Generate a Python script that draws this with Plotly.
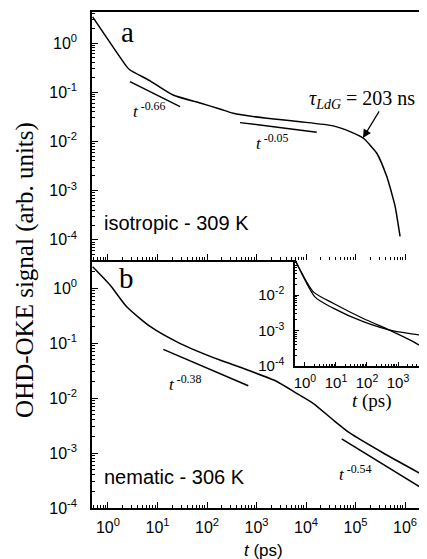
import plotly.graph_objects as go

# ---------------- data ----------------
# panel a: isotropic - 309 K
a_t = [0.49, 2.39, 2.78, 7.08, 20.6, 72.4, 182, 339, 1622, 7586, 35480, 77620,
       144500, 195000, 269200, 426600, 537000, 631000, 794300]
a_s = [3.39, 0.331, 0.283, 0.170, 0.0879, 0.0603, 0.0457, 0.0372, 0.0295, 0.0251,
       0.0207, 0.0158, 0.0116, 0.0085, 0.00575, 0.00195, 0.00089, 4.79e-4, 1.17e-4]

# panel b: nematic - 306 K
b_t = [0.49, 1.10, 2.39, 7.08, 28.2, 182, 537, 2570, 6457, 14130, 35480, 77620,
       363100, 1995000]
b_s = [2.44, 1.135, 0.457, 0.200, 0.0989, 0.0490, 0.0347, 0.0200, 0.01216, 0.00794,
       0.00398, 0.00229, 0.00100, 0.000427]

# inset curves
inA_t = [0.479, 1.86, 8.13, 75.9, 550, 3090, 8710]
inA_s = [0.0977, 0.0123, 0.00589, 0.00219, 0.00102, 4.9e-4, 2.82e-4]
inB_t = [0.479, 2.09, 8.13, 75.9, 708, 8710]
inB_s = [0.0977, 0.00891, 0.00427, 0.00178, 9.77e-4, 7.08e-4]

# power-law guide lines (endpoints)
g066_t = [2.78, 28.5];    g066_s = [0.164, 0.0509]
g005_t = [464, 16440];    g005_s = [0.0241, 0.0154]
g038_t = [13.1, 682];     g038_s = [0.0767, 0.0167]
g054_t = [52600, 1.945e6]; g054_s = [0.0018, 2.44e-4]

# tick labels
x_tickvals = [1, 10, 100, 1e3, 1e4, 1e5, 1e6]
x_ticktext = ["10<sup>0</sup>", "10<sup>1</sup>", "10<sup>2</sup>", "10<sup>3</sup>",
              "10<sup>4</sup>", "10<sup>5</sup>", "10<sup>6</sup>"]
y_tickvals = [1e-4, 1e-3, 1e-2, 1e-1, 1]
y_ticktext = ["10<sup>-4</sup>", "10<sup>-3</sup>", "10<sup>-2</sup>", "10<sup>-1</sup>",
              "10<sup>0</sup>"]
in_x_tickvals = [1, 10, 100, 1e3]
in_x_ticktext = ["10<sup>0</sup>", "10<sup>1</sup>", "10<sup>2</sup>", "10<sup>3</sup>"]
in_y_tickvals = [1e-4, 1e-3, 1e-2]
in_y_ticktext = ["10<sup>-4</sup>", "10<sup>-3</sup>", "10<sup>-2</sup>"]


def minor_vals(lo, hi):
    vals = []
    for e in range(lo, hi + 1):
        for k in range(2, 10):
            vals.append(k * 10.0 ** e)
    return vals


SANS = "Liberation Sans, Arial, sans-serif"
SERIF = "Liberation Serif, Times New Roman, serif"
LW = 1.5

fig = go.Figure()


def line(x, y, xa, ya, w=LW, shape="linear"):
    fig.add_trace(go.Scatter(x=x, y=y, xaxis=xa, yaxis=ya, mode="lines",
                             line=dict(color="black", width=w, shape=shape, smoothing=0.6),
                             showlegend=False, hoverinfo="skip"))


line(a_t, a_s, "x", "y", shape="spline")
line(g066_t, g066_s, "x", "y")
line(g005_t, g005_s, "x", "y")
line(b_t, b_s, "x2", "y2", shape="spline")
line(g038_t, g038_s, "x2", "y2")
line(g054_t, g054_s, "x2", "y2")
line(inA_t, inA_s, "x3", "y3", w=1.3, shape="spline")
line(inB_t, inB_s, "x3", "y3", w=1.3, shape="spline")

axis_common = dict(type="log", showline=True, linecolor="black", linewidth=LW,
                   ticks="inside", ticklen=6, tickwidth=1, tickcolor="black",
                   showgrid=False, zeroline=False, automargin=False,
                   tickfont=dict(family=SANS, size=16, color="black"))


def minor(lo, hi, ln=3):
    return dict(ticks="inside", ticklen=ln, tickcolor="black", tickmode="array",
                tickvals=minor_vals(lo, hi), showgrid=False)


xr = [-0.323, 6.444]
# the page body has an 8px margin, so the figure is offset by 8px
fig.update_layout(
    width=419, height=551,
    margin=dict(l=84, r=0, t=4, b=51, autoexpand=False),
    paper_bgcolor="white", plot_bgcolor="white",
    xaxis=dict(axis_common, domain=[0, 1], range=xr, anchor="y", mirror=True,
               tickmode="array", tickvals=x_tickvals, showticklabels=False,
               minor=minor(-1, 6)),
    yaxis=dict(axis_common, domain=[0.5, 1], range=[-4.41, 0.63], anchor="x",
               tickmode="array", tickvals=y_tickvals, ticktext=y_ticktext,
               ticklabelstandoff=10, minor=minor(-5, 0)),
    xaxis2=dict(axis_common, domain=[0, 1], range=xr, anchor="y2", mirror=False,
                tickmode="array", tickvals=x_tickvals, ticktext=x_ticktext,
                ticklabelstandoff=4, minor=minor(-1, 6)),
    yaxis2=dict(axis_common, domain=[0, 0.5], range=[-4, 0.51], anchor="x2",
                tickmode="array", tickvals=y_tickvals, ticktext=y_ticktext,
                ticklabelstandoff=10, minor=minor(-5, 0)),
    xaxis3=dict(axis_common, domain=[0.606, 1], range=[-0.32, 3.935], anchor="y3",
                tickmode="array", tickvals=in_x_tickvals, ticktext=in_x_ticktext,
                ticklen=4, ticklabelstandoff=2, tickfont=dict(family=SANS, size=15, color="black"),
                minor=minor(0, 3, 2)),
    yaxis3=dict(axis_common, domain=[0.286, 0.5], range=[-4, -1.014], anchor="x3",
                tickmode="array", tickvals=in_y_tickvals, ticktext=in_y_ticktext,
                ticklen=4, ticklabelstandoff=6, tickfont=dict(family=SANS, size=15, color="black"),
                minor=minor(-4, -2, 2)),
)

serif = lambda s: dict(family=SERIF, size=s, color="black")
sans = lambda s: dict(family=SANS, size=s, color="black")

ann = [
    # panel letters
    dict(x=0.394, y=0.223, xref="x", yref="y", text="a", font=serif(29), showarrow=False),
    dict(x=0.38, y=0.18, xref="x2", yref="y2", text="b", font=serif(29), showarrow=False),
    # state labels
    dict(x=-0.13, y=-3.655, xref="x", yref="y", text="isotropic - 309 K", font=sans(20),
         xanchor="left", showarrow=False),
    dict(x=-0.13, y=-3.436, xref="x2", yref="y2", text="nematic - 306 K", font=sans(20),
         xanchor="left", showarrow=False),
    # power-law labels
    dict(x=0.47, y=-1.36, xref="x", yref="y", text="<i>t</i><sup> -0.66</sup>",
         font=serif(17), xanchor="left", showarrow=False),
    dict(x=2.95, y=-2.01, xref="x", yref="y", text="<i>t</i><sup> -0.05</sup>",
         font=serif(17), xanchor="left", showarrow=False),
    dict(x=1.19, y=-1.727, xref="x2", yref="y2", text="<i>t</i><sup> -0.38</sup>",
         font=serif(17), xanchor="left", showarrow=False),
    dict(x=4.63, y=-3.36, xref="x2", yref="y2", text="<i>t</i><sup> -0.54</sup>",
         font=serif(17), xanchor="left", showarrow=False),
    # tau label + arrow
    dict(x=4.02, y=-1.157, xref="x", yref="y",
         text="<i>τ</i><sub><i>LdG</i></sub> = 203 ns", font=serif(20),
         xanchor="left", showarrow=False),
    dict(x=5.15, y=-1.93, xref="x", yref="y", ax=5.495, ay=-1.36, axref="x", ayref="y",
         text="", showarrow=True, arrowhead=2, arrowsize=1.4, arrowwidth=1.2,
         arrowcolor="black"),
    # axis titles
    dict(x=(25 - 92) / 335, y=0.48, xref="paper", yref="paper",
         text="OHD-OKE signal (arb. units)", font=serif(25), textangle=-90,
         showarrow=False, xanchor="center", yanchor="middle"),
    dict(x=(263 - 92) / 335, y=(508 - 550) / 496, xref="paper", yref="paper",
         text="<i>t</i> (ps)", font=sans(17), showarrow=False,
         xanchor="center", yanchor="middle"),
    dict(x=(372 - 92) / 335, y=(508 - 401) / 496, xref="paper", yref="paper",
         text="<i>t</i> (ps)", font=serif(19), showarrow=False,
         xanchor="center", yanchor="middle"),
]
fig.update_layout(annotations=ann)

fig.write_html("out.html")
